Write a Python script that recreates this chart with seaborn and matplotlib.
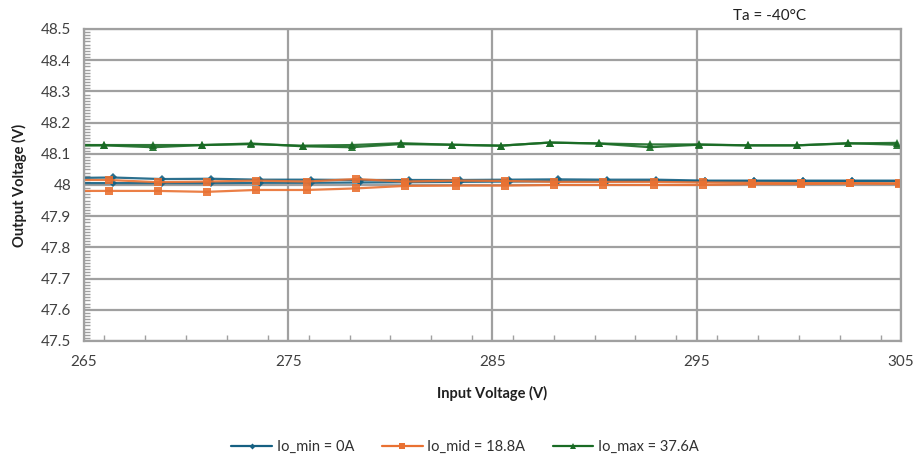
import numpy as np
import pandas as pd
import matplotlib
matplotlib.use("Agg")
import matplotlib.pyplot as plt
from matplotlib.lines import Line2D
from matplotlib.ticker import MultipleLocator, FuncFormatter
import seaborn as sns

# ---- data ----
series_names = ["Io_min = 0A", "Io_mid = 18.8A", "Io_max = 37.6A"]

blue_x = [263.9, 266.4, 268.8, 271.2, 273.6, 276.1, 278.5, 280.9, 283.4, 285.8,
          288.2, 290.6, 293.0, 295.4, 297.8, 300.2, 302.6, 305.1]
blue_a = [48.022, 48.024, 48.019, 48.020, 48.017, 48.017, 48.016, 48.016, 48.016, 48.017,
          48.018, 48.017, 48.017, 48.014, 48.014, 48.014, 48.014, 48.014]
blue_b = [48.006, 48.006, 48.006, 48.006, 48.007, 48.007, 48.008, 48.009, 48.010, 48.011,
          48.012, 48.012, 48.013, 48.012, 48.012, 48.012, 48.012, 48.012]

orange_x = [263.7, 266.2, 268.6, 271.0, 273.4, 275.9, 278.3, 280.7, 283.2, 285.6,
            288.0, 290.4, 292.9, 295.3, 297.7, 300.1, 302.5, 304.9]
orange_a = [48.016, 48.016, 48.009, 48.011, 48.014, 48.011, 48.019, 48.011, 48.014, 48.013,
            48.010, 48.010, 48.010, 48.008, 48.007, 48.006, 48.006, 48.005]
orange_b = [47.981, 47.981, 47.981, 47.978, 47.984, 47.984, 47.989, 47.997, 47.998, 47.998,
            48.000, 48.000, 48.000, 48.000, 48.003, 48.003, 48.005, 48.004]

green_x = [263.6, 266.0, 268.4, 270.8, 273.2, 275.7, 278.1, 280.5, 283.0, 285.4,
           287.8, 290.2, 292.7, 295.1, 297.5, 299.9, 302.4, 304.8]
green_a = [48.128, 48.128, 48.128, 48.128, 48.131, 48.126, 48.128, 48.134, 48.129, 48.126,
           48.136, 48.133, 48.130, 48.130, 48.127, 48.127, 48.134, 48.129]
green_b = [48.126, 48.127, 48.121, 48.128, 48.133, 48.124, 48.121, 48.131, 48.129, 48.126,
           48.136, 48.133, 48.121, 48.129, 48.127, 48.127, 48.133, 48.135]

y_ticks = [47.5, 47.6, 47.7, 47.8, 47.9, 48.0, 48.1, 48.2, 48.3, 48.4, 48.5]
x_ticks = [265, 275, 285, 295, 305]

colors = {"Io_min = 0A": "#156082", "Io_mid = 18.8A": "#E97132", "Io_max = 37.6A": "#196B24"}
markers = {"Io_min = 0A": "D", "Io_mid = 18.8A": "s", "Io_max = 37.6A": "^"}
msizes = {"Io_min = 0A": 3.8, "Io_mid = 18.8A": 5.4, "Io_max = 37.6A": 5.6}

rows = []
for name, xs, ya, yb in [(series_names[0], blue_x, blue_a, blue_b),
                         (series_names[1], orange_x, orange_a, orange_b),
                         (series_names[2], green_x, green_a, green_b)]:
    for x, y in zip(xs, ya):
        rows.append((name, "A", x, y))
    for x, y in zip(xs, yb):
        rows.append((name, "B", x, y))
df = pd.DataFrame(rows, columns=["series", "sweep", "vin", "vout"])

sns.set_theme(style="white")
plt.rcParams["font.family"] = ["Lato", "DejaVu Sans"]

fig = plt.figure(figsize=(9.19, 4.58), dpi=100)
ax = fig.add_axes([0.0914, 0.2555, 0.8890, 0.6812])

sns.lineplot(data=df, x="vin", y="vout", hue="series", style="series",
             units="sweep", estimator=None, sort=False, hue_order=series_names,
             style_order=series_names, palette=colors, markers=markers,
             dashes=False, linewidth=1.6, markeredgewidth=0, ax=ax, legend=False)

for line in ax.lines:
    c = matplotlib.colors.to_hex(line.get_color()).upper()
    for n in series_names:
        if c == colors[n].upper():
            line.set_markersize(msizes[n])
            line.set_alpha(0.9)

ax.set_xlim(265, 305)
ax.set_ylim(47.5, 48.5)
ax.set_xticks(x_ticks)
ax.set_yticks(y_ticks)
ax.xaxis.set_minor_locator(MultipleLocator(2))
ax.yaxis.set_minor_locator(MultipleLocator(0.01))
ax.yaxis.set_major_formatter(FuncFormatter(lambda v, p: f"{v:g}"))

grid_c = "#A0A0A0"
ax.grid(True, which="major", color=grid_c, linewidth=1.6)
ax.set_axisbelow(True)
for s in ax.spines.values():
    s.set_color(grid_c)
    s.set_linewidth(1.6)

ax.tick_params(axis="x", which="major", direction="inout", length=8, width=1.4,
               color=grid_c, labelsize=11, labelcolor="#404040", pad=6)
ax.tick_params(axis="y", which="major", direction="out", length=6, width=1.4,
               color=grid_c, labelsize=11, labelcolor="#404040", pad=3)
ax.tick_params(axis="x", which="minor", direction="in", length=4, width=1.0,
               color=grid_c, bottom=True)
ax.tick_params(axis="y", which="minor", direction="in", length=4, width=1.0,
               color=grid_c, left=True)

ax.set_xlabel("Input Voltage (V)", fontsize=10.5, fontweight="bold", color="#202020", labelpad=12)
ax.set_ylabel("Output Voltage (V)", fontsize=10.5, fontweight="bold", color="#202020", labelpad=10)

fig.text(0.837, 0.965, "Ta = -40\u00b0C", fontsize=11, color="#202020", ha="center", va="center")

handles = [Line2D([0], [0], color=colors[n], marker=markers[n], markersize=msizes[n] * 0.8,
                  markeredgewidth=0, linewidth=1.6) for n in series_names]
fig.legend(handles, series_names, loc="center", bbox_to_anchor=(0.506, 0.024), ncol=3,
           frameon=False, fontsize=10.5, handlelength=2.8, handletextpad=0.3,
           columnspacing=1.9, labelcolor="#303030")

fig.savefig("out.png", dpi=100)
